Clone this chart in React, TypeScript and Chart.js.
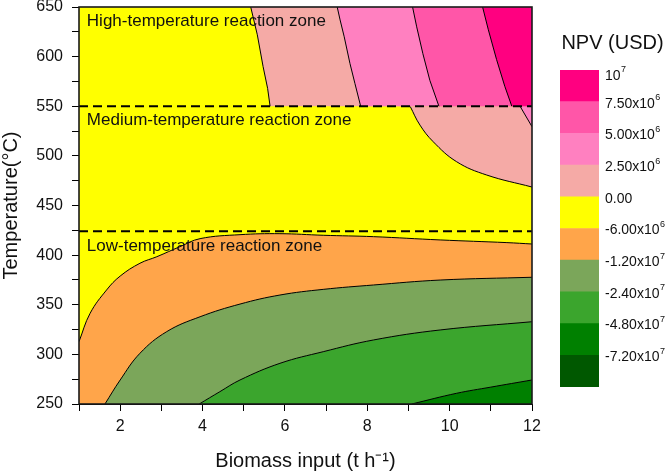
import React, { useEffect, useRef } from 'react';
import { Chart, registerables } from 'chart.js';

Chart.register(...registerables);

const FONT = "'Liberation Sans', Arial, Helvetica, sans-serif";

// Axes
const xMin = 1;
const xMax = 12;
const yMin = 250;
const yMax = 650;
const xTitle = 'Biomass input (t h\u207B\u00B9)';
const yTitle = 'Temperature(\u00B0C)';

// Zone separators (temperature, °C)
const zoneHighLow = 550;
const zoneMedLow = 424;

// Zone labels
const zoneLabels = ['High-temperature reaction zone', 'Medium-temperature reaction zone', 'Low-temperature reaction zone'];
const zoneLabelX = 1.19;
const zoneLabelT = [636, 536, 408.5];

// Contour boundaries, [biomass input (t/h), temperature (°C)]
const cYellowOrange: number[][] = [[1.0, 312.8], [1.27, 341.4], [1.67, 364.9], [2.0, 378.9], [2.48, 391.8], [2.89, 398.4], [3.45, 408.5], [3.94, 416.6], [4.91, 420.6], [5.88, 421.6], [6.93, 420.0], [8.15, 418.6], [9.77, 415.3], [11.39, 412.6], [12, 411.2]];
const cOrangeOlive: number[][] = [[1.63, 250], [2.0, 274.2], [2.48, 301.1], [3.13, 322.9], [3.94, 337.9], [4.91, 350.7], [5.88, 359.8], [6.93, 365.5], [8.15, 369.9], [9.77, 374.9], [12, 377.7]];
const cOliveGreen: number[][] = [[3.92, 250], [4.42, 262.4], [4.91, 274.2], [5.88, 291.0], [6.93, 302.7], [8.15, 314.5], [9.77, 324.6], [12, 332.9]];
const cGreenDark: number[][] = [[9.08, 250], [10.17, 260.8], [11.0, 267.0], [12, 274.2]];
const cMedPink: number[][] = [[9.04, 550], [9.28, 531], [9.6, 514.3], [10.17, 494.1], [10.9, 480.7], [12, 468.6]];
const cMedCorner: number[][] = [[11.71, 550], [12, 529.4]];
const cHigh1: number[][] = [[5.17, 650], [5.33, 622], [5.47, 590], [5.58, 568], [5.64, 550]];
const cHigh2: number[][] = [[7.27, 650], [7.34, 637], [7.44, 620], [7.58, 593], [7.70, 573], [7.84, 550]];
const cHigh3: number[][] = [[9.10, 650], [9.20, 630], [9.35, 603], [9.52, 576], [9.74, 550]];
const cHigh4: number[][] = [[10.80, 650], [10.94, 627], [11.14, 597], [11.34, 570], [11.51, 550]];

// Colour classes (bottom to top)
const legendColors = ['#005800', '#008000', '#3ba52d', '#7ba65a', '#ffa54a', '#ffff00', '#f5aaa6', '#ff80c0', '#ff56a8', '#ff0080'];
const legendBase = ['10', '7.50x10', '5.00x10', '2.50x10', '0.00', '-6.00x10', '-1.20x10', '-2.40x10', '-4.80x10', '-7.20x10'];
const legendExp = ['7', '6', '6', '6', '', '6', '7', '7', '7', '7'];
const legendTickValues = [10, 9, 8, 7, 6, 5, 4, 3, 2, 1];
const legendTitle = 'NPV (USD)';

const C = {
  darkGreen: legendColors[1],
  green: legendColors[2],
  olive: legendColors[3],
  orange: legendColors[4],
  yellow: legendColors[5],
  lightPink: legendColors[6],
  pink: legendColors[7],
  hotPink: legendColors[8],
  deepPink: legendColors[9],
};

const pts = (a: number[][]) => a.map(([x, y]) => ({ x, y }));

export default function App() {
  const mainRef = useRef<HTMLCanvasElement>(null);
  const barRef = useRef<HTMLCanvasElement>(null);

  useEffect(() => {
    const highPoly = (c: number[][]) => [...pts(c), { x: xMax + 1, y: zoneHighLow }, { x: xMax + 1, y: yMax + 20 }, { x: c[0][0], y: yMax + 20 }];
    const smooth = { tension: 0.4 };
    const flat = { tension: 0 };

    const layers: any[] = [
      { data: pts(cYellowOrange), backgroundColor: C.orange, borderColor: '#000', borderWidth: 1, fill: 'start', ...smooth },
      { data: pts(cOrangeOlive), backgroundColor: C.olive, borderColor: '#000', borderWidth: 1, fill: 'start', ...smooth },
      { data: pts(cOliveGreen), backgroundColor: C.green, borderColor: '#000', borderWidth: 1, fill: 'start', ...smooth },
      { data: pts(cGreenDark), backgroundColor: C.darkGreen, borderColor: '#000', borderWidth: 1, fill: 'start', ...smooth },
      { data: pts(cMedPink), backgroundColor: C.lightPink, borderColor: '#000', borderWidth: 1, fill: { value: zoneHighLow }, ...smooth },
      { data: pts(cMedCorner), backgroundColor: C.pink, borderColor: '#000', borderWidth: 1, fill: { value: zoneHighLow }, ...flat },
      { data: highPoly(cHigh1), backgroundColor: C.lightPink, borderWidth: 0, borderColor: 'rgba(0,0,0,0)', fill: 'shape', ...flat },
      { data: highPoly(cHigh2), backgroundColor: C.pink, borderWidth: 0, borderColor: 'rgba(0,0,0,0)', fill: 'shape', ...flat },
      { data: highPoly(cHigh3), backgroundColor: C.hotPink, borderWidth: 0, borderColor: 'rgba(0,0,0,0)', fill: 'shape', ...flat },
      { data: highPoly(cHigh4), backgroundColor: C.deepPink, borderWidth: 0, borderColor: 'rgba(0,0,0,0)', fill: 'shape', ...flat },
      { data: pts(cHigh1), borderColor: '#000', borderWidth: 1, fill: false, ...flat },
      { data: pts(cHigh2), borderColor: '#000', borderWidth: 1, fill: false, ...flat },
      { data: pts(cHigh3), borderColor: '#000', borderWidth: 1, fill: false, ...flat },
      { data: pts(cHigh4), borderColor: '#000', borderWidth: 1, fill: false, ...flat },
      { data: [{ x: xMin, y: zoneHighLow }, { x: xMax, y: zoneHighLow }], borderColor: '#000', borderWidth: 2, borderDash: [9, 5], fill: false, ...flat },
      { data: [{ x: xMin, y: zoneMedLow }, { x: xMax, y: zoneMedLow }], borderColor: '#000', borderWidth: 2, borderDash: [9, 5], fill: false, ...flat },
    ];
    const n = layers.length;
    const datasets = layers.map((d, i) => ({ ...d, order: n - i, pointRadius: 0, pointHoverRadius: 0 }));

    const decor = {
      id: 'decor',
      beforeDatasetsDraw(chart: any) {
        const { ctx, chartArea: a } = chart;
        ctx.save();
        ctx.fillStyle = C.yellow;
        ctx.fillRect(a.left, a.top, a.right - a.left, a.bottom - a.top);
        ctx.restore();
      },
      afterDatasetsDraw(chart: any) {
        const { ctx, chartArea: a, scales } = chart;
        ctx.save();
        ctx.fillStyle = '#111';
        ctx.font = `17px ${FONT}`;
        ctx.textAlign = 'left';
        ctx.textBaseline = 'middle';
        zoneLabels.forEach((t, i) => {
          ctx.fillText(t, scales.x.getPixelForValue(zoneLabelX), scales.y.getPixelForValue(zoneLabelT[i]));
        });
        ctx.strokeStyle = '#1a1a1a';
        ctx.lineWidth = 1.6;
        ctx.strokeRect(a.left, a.top, a.right - a.left, a.bottom - a.top);
        ctx.restore();
      },
    };

    const tickFont = { family: FONT, size: 16 };
    const main = new Chart(mainRef.current as HTMLCanvasElement, {
      type: 'line',
      data: { datasets },
      options: {
        animation: false,
        responsive: false,
        devicePixelRatio: 1,
        events: [],
        layout: { padding: { left: 0, top: 7, right: 134, bottom: 0 } },
        plugins: { legend: { display: false }, tooltip: { enabled: false } },
        scales: {
          x: {
            type: 'linear',
            min: xMin,
            max: xMax,
            ticks: { stepSize: 1, autoSkip: false, maxRotation: 0, padding: 6, color: '#111', font: tickFont, callback: (v: any) => (Number(v) % 2 === 0 ? String(v) : '') },
            grid: { drawOnChartArea: false, drawTicks: true, tickLength: 7, color: '#000', tickColor: '#000' },
            border: { display: true, color: '#000', width: 1 },
            title: { display: true, text: xTitle, color: '#111', font: { family: FONT, size: 20, lineHeight: 1.2 }, padding: { top: 0, bottom: 0 } },
            afterFit: (s: any) => { s.height = 69; s.paddingLeft = 0; s.paddingRight = 0; },
          },
          y: {
            type: 'linear',
            min: yMin,
            max: yMax,
            ticks: { stepSize: 25, autoSkip: false, padding: 9, color: '#111', font: tickFont, callback: (v: any) => (Number(v) % 50 === 0 ? String(v) : '') },
            grid: { drawOnChartArea: false, drawTicks: true, tickLength: 7, color: '#000', tickColor: '#000' },
            border: { display: true, color: '#000', width: 1 },
            title: { display: true, text: yTitle, color: '#111', font: { family: FONT, size: 20, lineHeight: 1.1 }, padding: { top: 0, bottom: 0 } },
            afterFit: (s: any) => { s.width = 79; s.paddingTop = 0; s.paddingBottom = 0; },
          },
        },
      } as any,
      plugins: [decor],
    });

    const barLabels = {
      id: 'barLabels',
      afterDraw(chart: any) {
        const { ctx, scales } = chart;
        ctx.save();
        ctx.fillStyle = '#111';
        ctx.textBaseline = 'middle';
        ctx.textAlign = 'center';
        ctx.font = `20px ${FONT}`;
        ctx.fillText(legendTitle, 612.5, 43);
        ctx.textAlign = 'left';
        legendBase.forEach((b, i) => {
          const y = scales.y.getPixelForValue(legendTickValues[i]) + (i === 0 ? 6 : 2);
          ctx.font = `14px ${FONT}`;
          ctx.fillText(b, 605, y);
          const w = ctx.measureText(b).width;
          if (legendExp[i]) {
            ctx.font = `9px ${FONT}`;
            ctx.fillText(legendExp[i], 605 + w + 0.5, y - 6);
          }
        });
        ctx.restore();
      },
    };

    const bar = new Chart(barRef.current as HTMLCanvasElement, {
      type: 'bar',
      data: {
        labels: ['NPV'],
        datasets: legendColors.map((c) => ({ data: [1], backgroundColor: c, borderWidth: 0, barPercentage: 1, categoryPercentage: 1 })),
      },
      options: {
        animation: false,
        responsive: false,
        devicePixelRatio: 1,
        events: [],
        layout: { padding: { left: 560, right: 67, top: 70, bottom: 86 } },
        plugins: { legend: { display: false }, tooltip: { enabled: false } },
        scales: {
          x: { stacked: true, display: false },
          y: { stacked: true, display: false, min: 0, max: 10 },
        },
      } as any,
      plugins: [barLabels],
    });

    return () => {
      main.destroy();
      bar.destroy();
    };
  }, []);

  return (
    <div style={{ position: 'fixed', left: 0, top: 0, width: 666, height: 473, background: '#fff' }}>
      <canvas ref={mainRef} width={666} height={473} style={{ position: 'absolute', left: 0, top: 0 }} />
      <canvas ref={barRef} width={666} height={473} style={{ position: 'absolute', left: 0, top: 0 }} />
    </div>
  );
}
